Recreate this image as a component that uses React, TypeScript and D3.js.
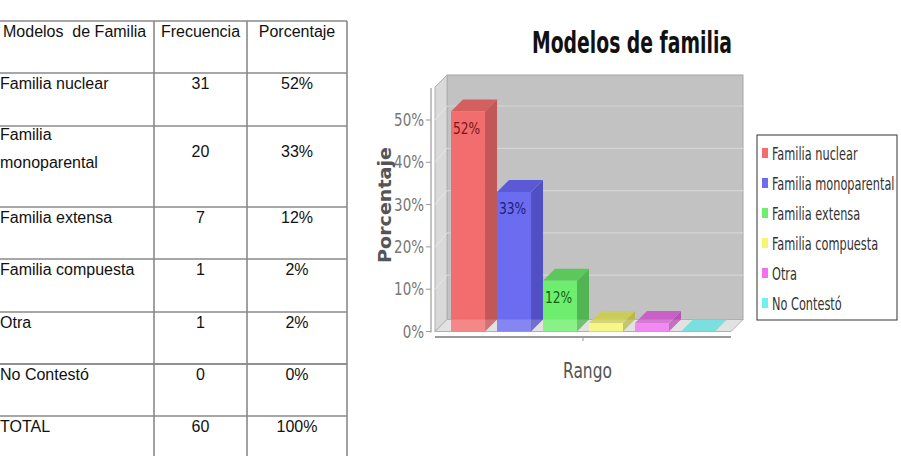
import React from "react";
import * as d3 from "d3";

// ---------- data ----------
const categories = [
  "Familia nuclear",
  "Familia monoparental",
  "Familia extensa",
  "Familia compuesta",
  "Otra",
  "No Contestó",
];
const frecuencia = [31, 20, 7, 1, 1, 0];
const porcentaje = [52, 33, 12, 2, 2, 0];
const totalFrecuencia = 60;
const totalPorcentaje = "100%";
const tableHeaders = ["Modelos  de Familia", "Frecuencia", "Porcentaje"];
const yTicks = [0, 10, 20, 30, 40, 50];
const barFront = ["#f26d6d", "#6c6cf0", "#6eee6e", "#f5f570", "#f070f0", "#70f0f0"];
const barTop = ["#d45f5f", "#5a5ad8", "#5cc85c", "#cccc5a", "#c860c8", "#5ed8d8"];
const barSide = ["#c25757", "#5050c4", "#52b452", "#b8b852", "#b454b4", "#54c4c4"];
const labelColor = ["#7a1616", "#20207a", "#146014", "#555", "#555", "#555"];
const chartTitle = "Modelos de familia";
const yTitle = "Porcentaje";
const xTitle = "Rango";

// ---------- layout ----------
const W = 901;
const H = 456;
const FONT_T = "'Liberation Sans', Arial, sans-serif";
const FONT_C = "'DejaVu Sans Condensed', 'DejaVu Sans', sans-serif";

function Table() {
  const colX = [154, 247, 347];
  const top = 21;
  const rowH = [52, 53, 81, 52, 53, 52, 52, 52];
  const rowTops: number[] = [];
  let acc = top;
  rowH.forEach((h) => {
    rowTops.push(acc);
    acc += h;
  });
  const c1 = (colX[0] + colX[1]) / 2;
  const c2 = (colX[1] + colX[2]) / 2;
  const rows = categories.map((c, i) => ({
    label: i === 1 ? ["Familia", "monoparental"] : [c],
    f: String(frecuencia[i]),
    p: porcentaje[i] + "%",
  }));
  rows.push({ label: ["TOTAL"], f: String(totalFrecuencia), p: totalPorcentaje });
  const txt = { fontFamily: FONT_T, fontSize: 16, fill: "#111" } as any;
  return (
    <g>
      {rowTops.map((t, i) => (
        <line
          key={"h" + i}
          x1={0}
          x2={colX[2]}
          y1={t}
          y2={t}
          stroke={i === 6 ? "#222" : "#8a8a8a"}
          strokeWidth={i === 6 ? 1 : 1.6}
        />
      ))}
      {colX.map((cx, i) => (
        <line key={"v" + i} x1={cx} x2={cx} y1={top} y2={H} stroke="#8a8a8a" strokeWidth={1.6} />
      ))}
      <text x={3} y={top + 16} style={{ whiteSpace: "pre" }} {...txt}>{tableHeaders[0]}</text>
      <text x={c1} y={top + 16} textAnchor="middle" {...txt}>{tableHeaders[1]}</text>
      <text x={c2} y={top + 16} textAnchor="middle" {...txt}>{tableHeaders[2]}</text>
      {rows.map((r, i) => {
        const t = rowTops[i + 1];
        const two = r.label.length > 1;
        return (
          <g key={"r" + i}>
            {r.label.map((l, j) => (
              <text key={j} x={0} y={t + (two ? 14 + j * 28 : 16)} {...txt}>{l}</text>
            ))}
            <text x={c1} y={t + (two ? 31 : 16)} textAnchor="middle" {...txt}>{r.f}</text>
            <text x={c2} y={t + (two ? 31 : 16)} textAnchor="middle" {...txt}>{r.p}</text>
          </g>
        );
      })}
    </g>
  );
}

function Chart() {
  const d = 12; // 3D depth
  const y = d3.scaleLinear().domain([0, 50]).range([331.5, 120]);
  const x = d3.scaleBand<string>().domain(categories).range([451, 715]).paddingInner(0.26);
  const bw = x.bandwidth();
  const left = 435;
  const right = 731;
  const topBack = 75;
  const y0 = y(0);
  const pts = (a: number[][]) => a.map((p) => p.join(",")).join(" ");
  return (
    <g>
      {/* title */}
      <text
        x={632}
        y={53}
        textAnchor="middle"
        fontFamily={FONT_C}
        fontWeight="bold"
        fontSize={30}
        textLength={200}
        lengthAdjust="spacingAndGlyphs"
        fill="#111"
      >
        {chartTitle}
      </text>
      {/* back wall */}
      <rect x={left + d} y={topBack} width={right - left} height={y0 - d - topBack} fill="#c2c2c2" stroke="#a6a6a6" strokeWidth={1} />
      {/* left wall */}
      <polygon
        points={pts([[left, topBack + d], [left + d, topBack], [left + d, y0 - d], [left, y0]])}
        fill="#d9d9d9"
        stroke="#b0b0b0"
        strokeWidth={1}
      />
      {/* grid lines */}
      {yTicks.slice(1).map((t) => (
        <g key={"g" + t}>
          <line x1={left + d} x2={right + d} y1={y(t) - d - 2} y2={y(t) - d - 2} stroke="#d4d4d4" strokeWidth={1.2} />
          <line x1={left} x2={left + d} y1={y(t)} y2={y(t) - d - 2} stroke="#e6e6e6" strokeWidth={1} />
        </g>
      ))}
      {/* floor */}
      <polygon
        points={pts([[left, y0], [left + d, y0 - d], [right + d, y0 - d], [right, y0]])}
        fill="#dcdcdc"
        stroke="#a8a8a8"
        strokeWidth={1}
      />
      {/* bars */}
      {categories.map((c, i) => {
        const bx = x(c) as number;
        const yv = y(porcentaje[i]);
        return (
          <g key={"b" + i}>
            <polygon points={pts([[bx + bw, yv], [bx + bw + d, yv - d], [bx + bw + d, y0 - d], [bx + bw, y0]])} fill={barSide[i]} />
            <polygon points={pts([[bx, yv], [bx + d, yv - d], [bx + bw + d, yv - d], [bx + bw, yv]])} fill={barTop[i]} />
            <rect x={bx} y={yv} width={bw} height={y0 - yv} fill={barFront[i]} />
          </g>
        );
      })}
      {/* translucent floor front band */}
      <polygon
        points={pts([[left, y0], [left + d, y0 - d], [right + d, y0 - d], [right, y0]])}
        fill="#ffffff"
        opacity={0.18}
      />
      {/* value labels */}
      {categories.map((c, i) =>
        porcentaje[i] >= 10 ? (
          <text
            key={"l" + i}
            transform={`translate(${(x(c) as number) + 2},${y(porcentaje[i]) + 22}) scale(0.85,1)`}
            fontFamily={FONT_C}
            fontSize={16}
            fill={labelColor[i]}
          >
            {porcentaje[i]}%
          </text>
        ) : null
      )}
      {/* y axis */}
      <line x1={431} x2={431} y1={topBack + d + 1} y2={y0 + 1} stroke="#9a9a9a" strokeWidth={1.2} />
      {yTicks.map((t) => (
        <g key={"t" + t}>
          <line x1={426} x2={431} y1={y(t)} y2={y(t)} stroke="#9a9a9a" strokeWidth={1} />
          <text
            transform={`translate(424,${y(t) + 6}) scale(0.88,1)`}
            textAnchor="end"
            fontFamily={FONT_C}
            fontSize={17}
            fill="#777"
          >
            {t}%
          </text>
        </g>
      ))}
      {/* x axis */}
      <line x1={left} x2={right} y1={337} y2={337} stroke="#9a9a9a" strokeWidth={2} />
      <line x1={583} x2={583} y1={337} y2={341} stroke="#9a9a9a" strokeWidth={1} />
      <text
        x={587.5}
        y={378}
        textAnchor="middle"
        fontFamily={FONT_C}
        fontSize={21}
        textLength={49}
        lengthAdjust="spacingAndGlyphs"
        fill="#555"
      >
        {xTitle}
      </text>
      <text
        transform="translate(391,205) rotate(-90)"
        textAnchor="middle"
        fontFamily="'DejaVu Sans', Verdana, sans-serif"
        fontWeight="bold"
        fontSize={18}
        textLength={116}
        lengthAdjust="spacingAndGlyphs"
        fill="#555"
      >
        {yTitle}
      </text>
      {/* legend */}
      <rect x={757} y={135} width={140} height={185} fill="#fff" stroke="#333" strokeWidth={1} />
      {categories.map((c, i) => (
        <g key={"lg" + i}>
          <rect x={762} y={148 + i * 30} width={6} height={10} fill={barFront[i]} />
          <text
            transform={`translate(772,${160 + i * 30}) scale(0.7,1)`}
            fontFamily={FONT_C}
            fontSize={18}
            fill="#333"
          >
            {c}
          </text>
        </g>
      ))}
    </g>
  );
}

export default function App() {
  return (
    <svg
      width={W}
      height={H}
      viewBox={`0 0 ${W} ${H}`}
      style={{ position: "absolute", left: 0, top: 0, display: "block", background: "#fff" }}
    >
      <rect width={W} height={H} fill="#fff" />
      <Table />
      <Chart />
    </svg>
  );
}
